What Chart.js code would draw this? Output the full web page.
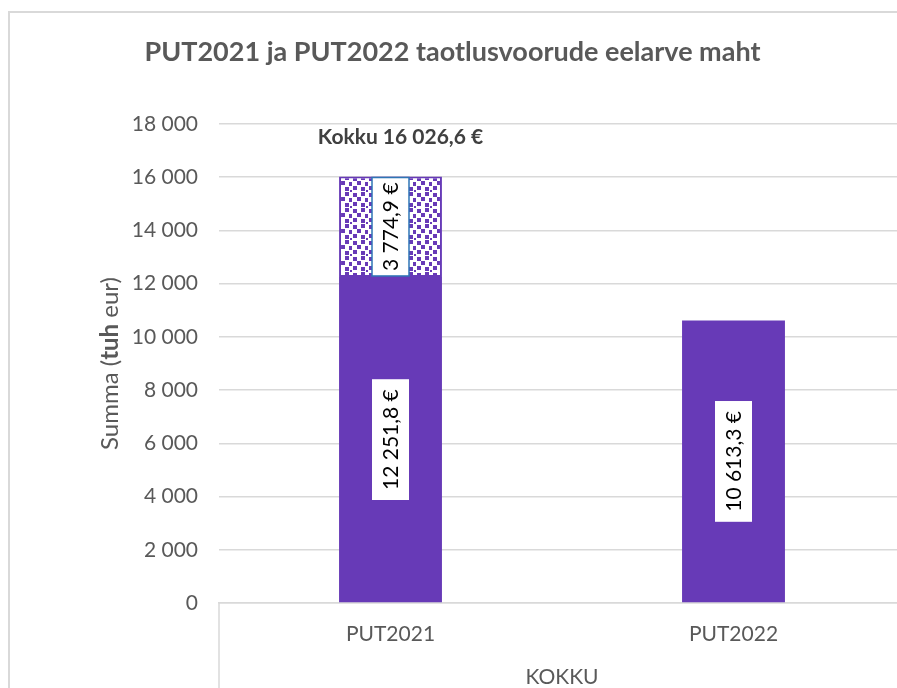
<!DOCTYPE html>
<html>
<head>
<meta charset="utf-8">
<script src="https://cdn.jsdelivr.net/npm/chart.js@4.4.1/dist/chart.umd.min.js"></script>
<style>
  html, body { margin: 0; padding: 0; background: #fff; overflow: hidden; width: 897px; height: 688px; }
  #wrap { position: relative; width: 897px; height: 688px; overflow: hidden; }
  #frame { position: absolute; left: 8px; top: 11px; width: 1000px; height: 1000px; border-left: 2px solid #d9d9d9; border-top: 2px solid #d9d9d9; box-sizing: border-box; }
  canvas { position: absolute; left: 0; top: 0; }
</style>
</head>
<body>
<div id="wrap">
  <div id="frame"></div>
  <canvas id="c" width="915" height="688"></canvas>
</div>
<script>
// ---- Data ----
const categories = ['PUT2021', 'PUT2022'];
const groupLabel = 'KOKKU';
const baseValues = [12251.8, 10613.3];
const extraValues = [3774.9, null];
const totalValues = [16026.6, null];
const yTicks = [0, 2000, 4000, 6000, 8000, 10000, 12000, 14000, 16000, 18000];
const titleText = 'PUT2021 ja PUT2022 taotlusvoorude eelarve maht';
const totalPrefix = 'Kokku';

// ---- Styles ----
const PURPLE = '#673AB7';
const GREY = '#595959';
const FONT = 'Lato, "Open Sans", sans-serif';

function fmtThousands(intStr) {
  return intStr.replace(/\B(?=(\d{3})+(?!\d))/g, ' ');
}
function fmtNum(v, dec) {
  const s = v.toFixed(dec);
  const parts = s.split('.');
  return fmtThousands(parts[0]) + (parts[1] ? ',' + parts[1] : '');
}

function makePattern() {
  const t = document.createElement('canvas');
  t.width = 16; t.height = 16;
  const g = t.getContext('2d');
  g.fillStyle = '#ffffff';
  g.fillRect(0, 0, 16, 16);
  g.fillStyle = PURPLE;
  const dots = [[1,1],[9,0],[5,5],[13,6],[1,10],[9,11],[14,14]];
  dots.forEach(([x, y]) => g.fillRect(x, y, 4, 4));
  return g.createPattern(t, 'repeat');
}

const ctx = document.getElementById('c').getContext('2d');
const pattern = makePattern();

const labelPlugin = {
  id: 'barLabels',
  afterDatasetsDraw(chart) {
    const c = chart.ctx;
    c.save();
    c.font = '21px ' + FONT;
    chart.data.datasets.forEach((ds, di) => {
      const meta = chart.getDatasetMeta(di);
      meta.data.forEach((bar, i) => {
        const v = ds.data[i];
        if (v === null || v === undefined) return;
        const txt = fmtNum(v, 1) + ' €';
        const top = Math.min(bar.y, bar.base), bot = Math.max(bar.y, bar.base);
        const segH = bot - top;
        const cy = (top + bot) / 2;
        const cx = bar.x;
        const tw = c.measureText(txt).width;
        const len = Math.min(tw + 20, segH - 2);
        const thick = 37;
        c.save();
        c.translate(cx, cy);
        c.rotate(-Math.PI / 2);
        c.fillStyle = '#ffffff';
        c.fillRect(-len / 2, -thick / 2, len, thick);
        if (di === 1) {
          c.strokeStyle = '#2E75B6';
          c.lineWidth = 1.5;
          c.strokeRect(-len / 2, -thick / 2, len, thick);
        }
        c.fillStyle = '#000000';
        c.textAlign = 'center';
        c.textBaseline = 'middle';
        c.fillText(txt, 0, 1);
        c.restore();
      });
    });
    // total label
    const yS = chart.scales.y;
    const meta0 = chart.getDatasetMeta(0);
    c.font = 'bold 21px ' + FONT;
    c.fillStyle = '#404040';
    c.textAlign = 'center';
    c.textBaseline = 'middle';
    totalValues.forEach((t, i) => {
      if (t === null) return;
      c.fillText(totalPrefix + ' ' + fmtNum(t, 1) + ' €', meta0.data[i].x + 10, yS.getPixelForValue(t) - 39);
    });
    c.restore();
  }
};

const decorPlugin = {
  id: 'decor',
  afterDraw(chart) {
    const c = chart.ctx;
    const a = chart.chartArea;
    c.save();
    // category group separator
    c.strokeStyle = '#d9d9d9';
    c.lineWidth = 1.5;
    c.beginPath();
    c.moveTo(a.left, a.bottom);
    c.lineTo(a.left, chart.height);
    c.moveTo(a.right, a.bottom);
    c.lineTo(a.right, chart.height);
    c.stroke();
    // y-axis title with bold part
    const parts = [['Summa (', '24px ' + FONT], ['tuh', 'bold 24px ' + FONT], [' eur)', '24px ' + FONT]];
    let total = 0;
    parts.forEach(p => { c.font = p[1]; total += c.measureText(p[0]).width; });
    c.translate(110, (a.top + a.bottom) / 2);
    c.rotate(-Math.PI / 2);
    c.fillStyle = GREY;
    c.textBaseline = 'middle';
    c.textAlign = 'left';
    let x = -total / 2;
    parts.forEach(p => { c.font = p[1]; c.fillText(p[0], x, 0); x += c.measureText(p[0]).width; });
    c.restore();
  }
};

new Chart(ctx, {
  type: 'bar',
  data: {
    labels: categories,
    datasets: [
      { label: 'PUT', data: baseValues, backgroundColor: PURPLE, borderWidth: 0, stack: 's' },
      { label: 'Lisa', data: extraValues, backgroundColor: pattern, borderColor: PURPLE, borderWidth: 2, borderSkipped: false, stack: 's' }
    ]
  },
  options: {
    responsive: false,
    animation: false,
    layout: { padding: { left: 0, right: 10, top: 0, bottom: 0 } },
    datasets: { bar: { categoryPercentage: 1.0, barPercentage: 0.3 } },
    plugins: {
      legend: { display: false },
      tooltip: { enabled: false },
      title: {
        display: true,
        text: titleText,
        color: GREY,
        font: { family: FONT, size: 27, weight: 'bold' },
        padding: { top: 35.8, bottom: 55.8 }
      }
    },
    scales: {
      x: {
        stacked: true,
        grid: { display: false, drawTicks: false },
        border: { display: true, color: '#d9d9d9', width: 1.5 },
        ticks: { color: GREY, font: { family: FONT, size: 21 }, padding: 19 },
        title: { display: true, text: groupLabel, color: GREY, font: { family: FONT, size: 21 }, padding: { top: 0, bottom: -2 } },
        afterFit(s) { s.height = 85; }
      },
      y: {
        stacked: true,
        min: 0,
        max: 18000,
        afterBuildTicks(s) { s.ticks = yTicks.map(v => ({ value: v })); },
        grid: { color: '#d9d9d9', lineWidth: 1.5, drawTicks: false },
        border: { display: false },
        ticks: {
          color: GREY,
          font: { family: FONT, size: 21 },
          padding: 21,
          callback: (v) => fmtThousands(String(v))
        },
        afterFit(s) { s.width = 219; }
      }
    }
  },
  plugins: [labelPlugin, decorPlugin]
});
</script>
</body>
</html>
